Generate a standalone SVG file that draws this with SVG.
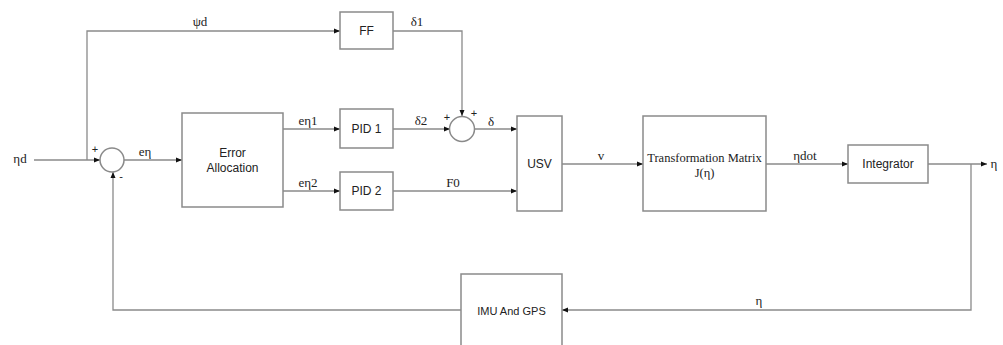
<svg xmlns="http://www.w3.org/2000/svg" width="1003" height="345" viewBox="0 0 1003 345">
<style>
.box{fill:#fff;stroke:#8a8a8a;stroke-width:1.5}
.ln{fill:none;stroke:#8a8a8a;stroke-width:1.3}
.sans{font-family:"Liberation Sans",Arial,sans-serif;font-size:12px;fill:#222;text-anchor:middle}
.serif{font-family:"Liberation Serif","Times New Roman",serif;font-size:13px;fill:#222;text-anchor:middle}
.sign{font-family:"Liberation Sans",Arial,sans-serif;font-size:11px;fill:#222;text-anchor:middle}
</style>
<defs>
<marker id="arr" markerUnits="userSpaceOnUse" markerWidth="8" markerHeight="8" refX="6" refY="3" orient="auto">
<path d="M0,0.5 L6,3 L0,5.5 Z" fill="#111"/>
</marker>
</defs>
<rect width="1003" height="345" fill="#fff"/>
<g id="connectors">
<path class="ln" d="M34,160 H100" marker-end="url(#arr)"/>
<path class="ln" d="M87,160 V31 H340" marker-end="url(#arr)"/>
<path class="ln" d="M393,31 H462 V116" marker-end="url(#arr)"/>
<path class="ln" d="M124,160 H182" marker-end="url(#arr)"/>
<path class="ln" d="M283,129 H340" marker-end="url(#arr)"/>
<path class="ln" d="M283,191 H340" marker-end="url(#arr)"/>
<path class="ln" d="M393,129 H450" marker-end="url(#arr)"/>
<path class="ln" d="M474,129 H517" marker-end="url(#arr)"/>
<path class="ln" d="M393,191 H517" marker-end="url(#arr)"/>
<path class="ln" d="M562,164 H643" marker-end="url(#arr)"/>
<path class="ln" d="M766,164 H848" marker-end="url(#arr)"/>
<path class="ln" d="M928,164 H987" marker-end="url(#arr)"/>
<path class="ln" d="M971,164 V310 H562" marker-end="url(#arr)"/>
<path class="ln" d="M461,310 H113 V172" marker-end="url(#arr)"/>
</g>
<g id="labels">
<text class="serif" x="200" y="26">ψd</text>
<text class="serif" x="417" y="26">δ1</text>
<text class="serif" x="20" y="163">ηd</text>
<text class="serif" x="145" y="156">eη</text>
<text class="serif" x="308" y="125">eη1</text>
<text class="serif" x="308" y="187">eη2</text>
<text class="serif" x="421" y="125">δ2</text>
<text class="serif" x="491" y="126">δ</text>
<text class="serif" x="453" y="187">F0</text>
<text class="serif" x="601" y="160">v</text>
<text class="serif" x="805" y="160">ηdot</text>
<text class="serif" x="994" y="168">η</text>
<text class="serif" x="759" y="305">η</text>
</g>
<g id="sum1">
<circle cx="112" cy="160" r="12" class="box"/>
<text class="sign" x="95" y="153">+</text>
<text class="sign" x="121" y="180">-</text>
</g>
<g id="sum2">
<circle cx="462" cy="129" r="12.5" class="box"/>
<text class="sign" x="447" y="121">+</text>
<text class="sign" x="474" y="117">+</text>
</g>
<g id="ff">
<rect class="box" x="340" y="12" width="53" height="37"/>
<text class="sans" x="366.5" y="35">FF</text>
</g>
<g id="error-allocation">
<rect class="box" x="182" y="113" width="101" height="94"/>
<text class="sans" x="232.5" y="157">Error</text>
<text class="sans" x="232.5" y="172">Allocation</text>
</g>
<g id="pid1">
<rect class="box" x="340" y="109" width="53" height="39"/>
<text class="sans" x="366.5" y="133">PID 1</text>
</g>
<g id="pid2">
<rect class="box" x="340" y="172" width="53" height="38"/>
<text class="sans" x="366.5" y="195">PID 2</text>
</g>
<g id="usv">
<rect class="box" x="517" y="116" width="45" height="95"/>
<text class="sans" x="539.5" y="168">USV</text>
</g>
<g id="transformation">
<rect class="box" x="643" y="116" width="123" height="95"/>
<text class="serif" x="704.5" y="162" style="font-size:12.5px">Transformation Matrix</text>
<text class="serif" x="704.5" y="177" style="font-size:12.5px">J(η)</text>
</g>
<g id="integrator">
<rect class="box" x="848" y="145" width="80" height="38"/>
<text class="sans" x="888" y="168">Integrator</text>
</g>
<g id="imu">
<rect class="box" x="461" y="274" width="101" height="80"/>
<text class="sans" x="511.5" y="315" style="font-size:11px">IMU And GPS</text>
</g>
</svg>
